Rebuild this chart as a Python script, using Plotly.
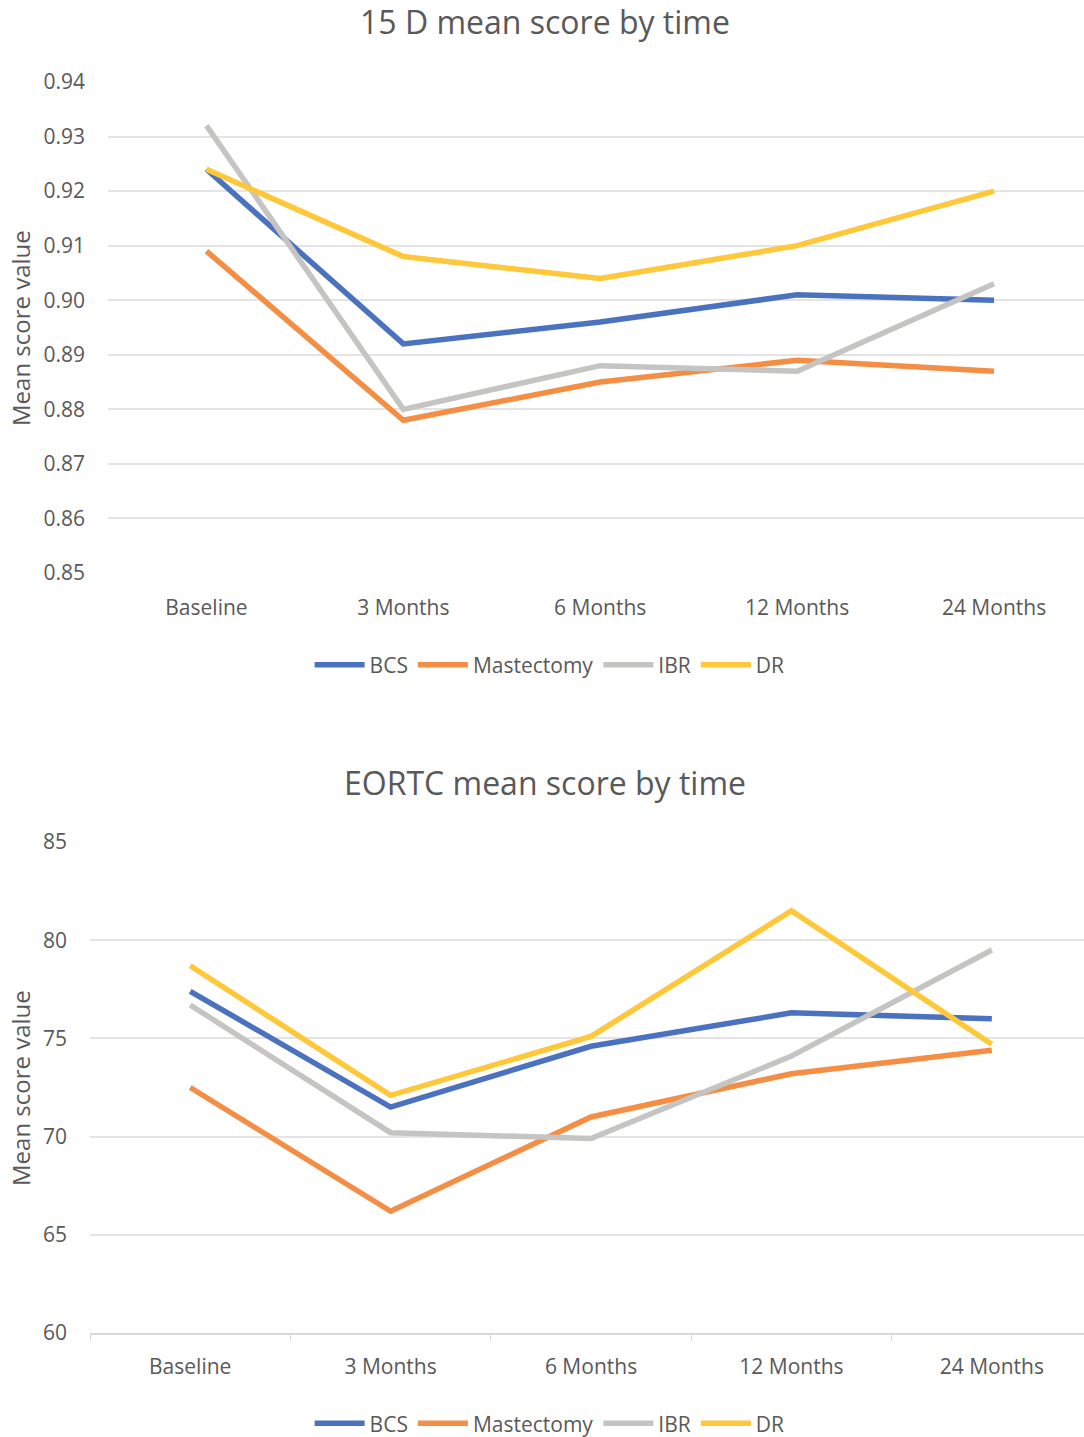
import plotly.graph_objects as go

categories = ["Baseline", "3 Months", "6 Months", "12 Months", "24 Months"]
series_names = ["BCS", "Mastectomy", "IBR", "DR"]
colors = ["#4A72BE", "#F58E45", "#C4C4C2", "#FFC83A"]

d15_bcs = [0.924, 0.892, 0.896, 0.901, 0.900]
d15_mast = [0.909, 0.878, 0.885, 0.889, 0.887]
d15_ibr = [0.932, 0.880, 0.888, 0.887, 0.903]
d15_dr = [0.924, 0.908, 0.904, 0.910, 0.920]

eortc_bcs = [77.4, 71.5, 74.6, 76.3, 76.0]
eortc_mast = [72.5, 66.2, 71.0, 73.2, 74.4]
eortc_ibr = [76.7, 70.2, 69.9, 74.1, 79.5]
eortc_dr = [78.7, 72.1, 75.1, 81.5, 74.7]

top_ticks = [0.85, 0.86, 0.87, 0.88, 0.89, 0.90, 0.91, 0.92, 0.93, 0.94]
top_ticklabels = ["0.85", "0.86", "0.87", "0.88", "0.89", "0.90", "0.91", "0.92", "0.93", "0.94"]
bottom_ticks = [60, 65, 70, 75, 80, 85]

W, H = 1084, 1437
FONT = "Open Sans, sans-serif"
TXT = "#595959"
GRID = "#E4E4E4"

fig = go.Figure()

top_data = [d15_bcs, d15_mast, d15_ibr, d15_dr]
bot_data = [eortc_bcs, eortc_mast, eortc_ibr, eortc_dr]

for name, col, vals in zip(series_names, colors, top_data):
    fig.add_trace(go.Scatter(x=categories, y=vals, mode="lines", name=name,
                             line=dict(color=col, width=5.5), xaxis="x", yaxis="y",
                             legend="legend"))
for name, col, vals in zip(series_names, colors, bot_data):
    fig.add_trace(go.Scatter(x=categories, y=vals, mode="lines", name=name,
                             line=dict(color=col, width=5.5), xaxis="x2", yaxis="y2",
                             legend="legend2"))

def py(p):
    return 1 - p / H

def px(p):
    return p / W

tick_font = dict(family=FONT, size=21, color=TXT)
cat_font = dict(family=FONT, size=21, color=TXT)
leg_font = dict(family=FONT, size=21, color=TXT)

fig.update_layout(
    width=W, height=H,
    margin=dict(l=0, r=0, t=0, b=0, autoexpand=False),
    paper_bgcolor="white", plot_bgcolor="white",
    font=dict(family=FONT, color=TXT),
    xaxis=dict(domain=[px(108), 1.0], range=[-0.5, 4.457], type="category",
               showgrid=False, showline=False, ticks="", tickfont=cat_font,
               zeroline=False, ticklabelstandoff=20, automargin=False),
    yaxis=dict(domain=[py(573), py(82)], range=[0.85, 0.94], tickvals=top_ticks,
               ticktext=top_ticklabels, showgrid=True, gridcolor=GRID, gridwidth=2,
               zeroline=False, showline=False, tickfont=tick_font, ticklabelstandoff=22,
               automargin=False),
    xaxis2=dict(domain=[px(90), 1.0], range=[-0.5, 4.46], type="category",
                showgrid=False, showline=True, linecolor="#D9D9D9", linewidth=2,
                ticks="outside", tickson="boundaries", ticklen=6, tickcolor="#D9D9D9",
                tickwidth=1, tickfont=cat_font, zeroline=False, anchor="y2",
                ticklabelstandoff=14, automargin=False),
    yaxis2=dict(domain=[py(1333), py(842)], range=[60, 85], tickvals=bottom_ticks,
                showgrid=True, gridcolor=GRID, gridwidth=2, zeroline=False,
                showline=False, tickfont=tick_font, anchor="x2", ticklabelstandoff=22,
                automargin=False),
    legend=dict(orientation="h", x=0.507, xanchor="center", y=py(665), yanchor="middle",
                font=leg_font, itemwidth=50),
    legend2=dict(orientation="h", x=0.507, xanchor="center", y=-0.005, yanchor="bottom",
                 font=leg_font, itemwidth=50),
    showlegend=True,
)

fig.add_annotation(text="15 D mean score by time", x=0.503, y=py(22), xref="paper", yref="paper",
                   showarrow=False, xanchor="center", yanchor="middle",
                   font=dict(family=FONT, size=32, color=TXT))
fig.add_annotation(text="EORTC mean score by time", x=0.503, y=py(782), xref="paper", yref="paper",
                   showarrow=False, xanchor="center", yanchor="middle",
                   font=dict(family=FONT, size=32, color=TXT))
fig.add_annotation(text="Mean score value", x=px(20), y=py(328), xref="paper", yref="paper",
                   showarrow=False, textangle=-90, xanchor="center", yanchor="middle",
                   font=dict(family=FONT, size=24, color=TXT))
fig.add_annotation(text="Mean score value", x=px(20), y=py(1088), xref="paper", yref="paper",
                   showarrow=False, textangle=-90, xanchor="center", yanchor="middle",
                   font=dict(family=FONT, size=24, color=TXT))

fig.write_html("out.html", config={"displayModeBar": False},
               post_script="document.body.style.margin='0';document.body.style.overflow='hidden';")
